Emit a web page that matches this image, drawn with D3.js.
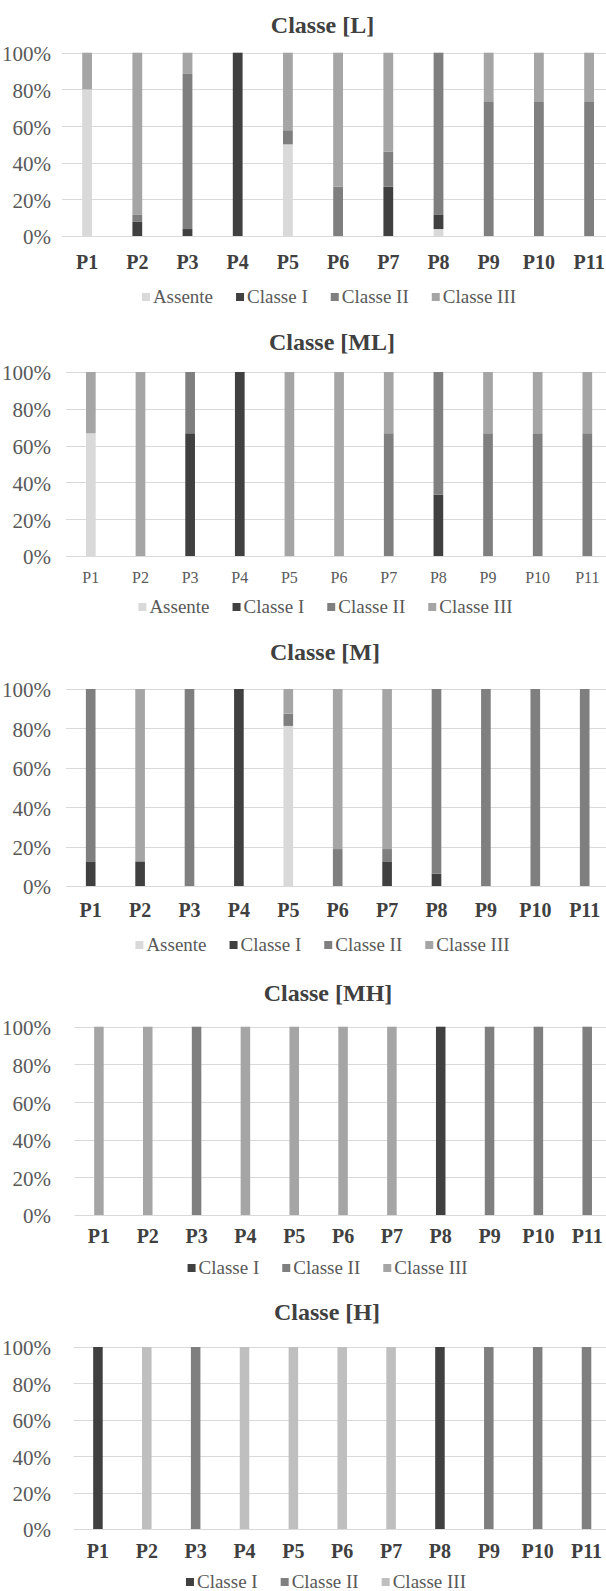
<!DOCTYPE html>
<html><head><meta charset="utf-8">
<script src="https://cdn.jsdelivr.net/npm/d3@7"></script>
<style>
body{margin:0;background:#fff} svg{display:block}
</style>
</head><body>
<svg id="c" width="606" height="1591"></svg>
<script>
const categories = ["P1","P2","P3","P4","P5","P6","P7","P8","P9","P10","P11"];
const yTickValues = [0,20,40,60,80,100];
const yTickLabels = ["0%","20%","40%","60%","80%","100%"];
const chartTitles = ["Classe [L]","Classe [ML]","Classe [M]","Classe [MH]","Classe [H]"];
const seriesFull = ["Assente","Classe I","Classe II","Classe III"];
const seriesNoAbsent = ["Classe I","Classe II","Classe III"];

// Classe [L]
const L_assente   = [80,0,0,0,50,0,0,3.8,0,0,0];
const L_classeI   = [0,7.7,3.8,100,0,0,26.9,7.7,0,0,0];
const L_classeII  = [0,3.8,84.6,0,7.7,26.9,19.2,88.5,73.1,73.1,73.1];
const L_classeIII = [20,88.5,11.6,0,42.3,73.1,53.9,0,26.9,26.9,26.9];
// Classe [ML]
const ML_assente   = [66.7,0,0,0,0,0,0,0,0,0,0];
const ML_classeI   = [0,0,66.7,100,0,0,0,33.3,0,0,0];
const ML_classeII  = [0,0,33.3,0,0,0,66.7,66.7,66.7,66.7,66.7];
const ML_classeIII = [33.3,100,0,0,100,100,33.3,0,33.3,33.3,33.3];
// Classe [M]
const M_assente   = [0,0,0,0,81.25,0,0,0,0,0,0];
const M_classeI   = [12.5,12.5,0,100,0,0,12.5,6.25,0,0,0];
const M_classeII  = [87.5,0,100,0,6.25,18.75,6.25,93.75,100,100,100];
const M_classeIII = [0,87.5,0,0,12.5,81.25,81.25,0,0,0,0];
// Classe [MH]
const MH_classeI   = [0,0,0,0,0,0,0,100,0,0,0];
const MH_classeII  = [0,0,100,0,0,0,0,0,100,100,100];
const MH_classeIII = [100,100,0,100,100,100,100,0,0,0,0];
// Classe [H]
const H_classeI   = [100,0,0,0,0,0,0,100,0,0,0];
const H_classeII  = [0,0,100,0,0,0,0,0,100,100,100];
const H_classeIII = [0,100,0,100,100,100,100,0,0,0,0];

const chartSeries = [
  {names: seriesFull, values: [L_assente, L_classeI, L_classeII, L_classeIII]},
  {names: seriesFull, values: [ML_assente, ML_classeI, ML_classeII, ML_classeIII]},
  {names: seriesFull, values: [M_assente, M_classeI, M_classeII, M_classeIII]},
  {names: seriesNoAbsent, values: [MH_classeI, MH_classeII, MH_classeIII]},
  {names: seriesNoAbsent, values: [H_classeI, H_classeII, H_classeIII]}
];

// layout (positions / styles)
const layouts = [
  {titleY:25, titleX:322.5, top:52.7, bottom:236, left:62, step:50.2, catY:262, catBold:true, catSize:20, legY:297, legX:329},
  {titleY:342, titleX:332, top:372, bottom:556, left:66, step:49.65, catY:577, catBold:false, catSize:16, legY:607, legX:325.5},
  {titleY:652, titleX:325, top:689, bottom:886, left:66, step:49.4, catY:910, catBold:true, catSize:20, legY:945, legX:322.5},
  {titleY:993, titleX:328, top:1026.7, bottom:1215, left:74.5, step:48.83, catY:1236, catBold:true, catSize:20, legY:1268, legX:327.6},
  {titleY:1312, titleX:327, top:1347, bottom:1529, left:73.5, step:48.86, catY:1551, catBold:true, catSize:20, legY:1582, legX:326}
];
const colorStd = {"Assente":"#d9d9d9","Classe I":"#404040","Classe II":"#7f7f7f","Classe III":"#a5a5a5"};
const colorH = {"Classe I":"#404040","Classe II":"#7f7f7f","Classe III":"#bfbfbf"};
const FONT = "Liberation Serif";

const svg = d3.select("#c");

chartSeries.forEach((cs, ci) => {
  const L = layouts[ci];
  const colors = ci === 4 ? colorH : colorStd;
  const g = svg.append("g").attr("font-family", FONT);
  const rows = categories.map((c, i) => {
    const r = {cat: c};
    cs.names.forEach((n, k) => r[n] = cs.values[k][i]);
    return r;
  });
  const x = d3.scaleBand().domain(categories)
    .range([L.left, L.left + L.step * categories.length])
    .paddingInner(0.805).paddingOuter(0.4025);
  const y = d3.scaleLinear().domain([0,100]).range([L.bottom, L.top]);

  // gridlines
  g.append("g").selectAll("line").data(yTickValues).join("line")
    .attr("x1", L.left).attr("x2", 606)
    .attr("y1", d => Math.round(y(d)) + 0.5).attr("y2", d => Math.round(y(d)) + 0.5)
    .attr("stroke", "#d9d9d9").attr("stroke-width", 1.2);

  // y axis labels
  const yAxis = d3.axisLeft(y).tickValues(yTickValues)
    .tickFormat((d, i) => yTickLabels[i]).tickSize(0).tickPadding(0);
  const ya = g.append("g").attr("transform", "translate(51,0)").call(yAxis);
  ya.attr("font-family", FONT).attr("font-size", 21);
  ya.select(".domain").remove();
  ya.selectAll("text").attr("font-family", FONT).attr("fill", "#595959").attr("dy", "0.38em");

  // stacked bars
  const stack = d3.stack().keys(cs.names)(rows);
  g.append("g").selectAll("g").data(stack).join("g")
    .attr("fill", d => colors[d.key])
    .selectAll("rect").data(d => d).join("rect")
    .attr("x", d => x(d.data.cat)).attr("width", x.bandwidth())
    .attr("y", d => y(d[1])).attr("height", d => Math.max(0, y(d[0]) - y(d[1])));

  // category labels
  const xAxis = d3.axisBottom(x).tickSize(0).tickPadding(0);
  const xa = g.append("g").attr("transform", `translate(0,${L.catY})`).call(xAxis);
  xa.attr("font-family", FONT).attr("font-size", L.catSize);
  xa.select(".domain").remove();
  xa.selectAll("text").attr("font-family", FONT)
    .attr("font-weight", L.catBold ? "bold" : "normal")
    .attr("fill", L.catBold ? "#404040" : "#595959").attr("dy", "0.35em");

  // title
  g.append("text").attr("x", L.titleX).attr("y", L.titleY).attr("dy", "0.35em")
    .attr("text-anchor", "middle").attr("font-family", FONT).attr("font-size", 24)
    .attr("font-weight", "bold").attr("fill", "#404040").text(chartTitles[ci]);

  // legend
  const leg = g.append("g");
  const items = leg.selectAll("g").data(cs.names).join("g");
  items.append("rect").attr("width", 8).attr("height", 8).attr("y", -4)
    .attr("fill", d => colors[d]);
  items.append("text").attr("x", 11).attr("dy", "0.33em")
    .attr("font-family", FONT).attr("font-size", 19).attr("fill", "#595959").text(d => d);
  const gap = 23;
  const widths = [];
  items.each(function(){ widths.push(11 + d3.select(this).select("text").node().getComputedTextLength()); });
  const total = d3.sum(widths) + gap * (widths.length - 1);
  items.attr("transform", (d, i) => {
    const xx = L.legX - total / 2 + d3.sum(widths.slice(0, i)) + gap * i;
    return `translate(${xx},${L.legY})`;
  });
});
</script>
</body></html>
